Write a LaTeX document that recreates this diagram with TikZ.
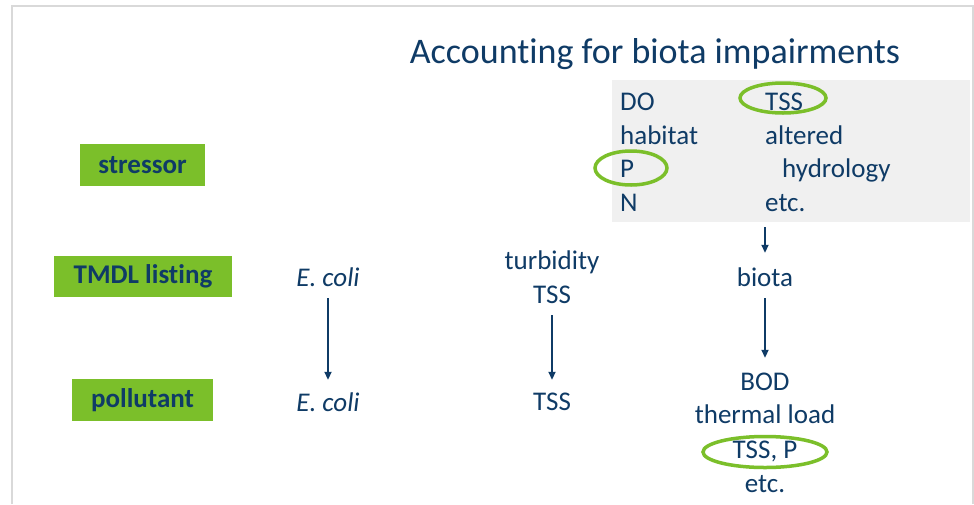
\documentclass[tikz,border=0pt]{standalone}
\usepackage{fontspec}
\setmainfont{Carlito}[RawFeature={-liga}]
\usetikzlibrary{arrows.meta}

\definecolor{navy}{HTML}{0F3B66}
\definecolor{leaf}{HTML}{7BBF2A}
\definecolor{panelgrey}{HTML}{F0F0F0}
\definecolor{framegrey}{HTML}{D9D9D9}

\tikzset{
  word/.style={text=navy, inner sep=0pt, text height=19pt, text depth=6pt, anchor=base},
  tag/.style={fill=leaf, text=navy, inner sep=0pt, font=\fontsize{27}{32}\selectfont\bfseries},
  link/.style={draw=navy, line width=1.8pt, -{Triangle[length=8pt, width=7pt]}},
  ring/.style={draw=leaf, line width=3.5pt},
}

\begin{document}
\begin{tikzpicture}[x=1pt, y=-1pt, font=\fontsize{27}{32}\selectfont]
  \useasboundingbox (0,0) rectangle (974,504);
  \fill[white] (0,0) rectangle (974,504);

  % slide frame
  \draw[framegrey, line width=2pt] (12,504) -- (12,6) -- (974,6);
  \draw[framegrey, line width=2pt] (973,6) -- (973,504);

  % title
  \node[word, text height=25pt, text depth=8pt, font=\fontsize{36}{42}\selectfont] (title) at (655,63) {Accounting for biota impairments};

  % row labels
  \node[tag, minimum width=125pt, minimum height=42pt] (stressor) at (142.5,165) {stressor};
  \node[tag, minimum width=178pt, minimum height=41pt] (listing) at (143,276.5) {TMDL listing};
  \node[tag, minimum width=141pt, minimum height=42pt] (pollutant) at (142.5,400) {pollutant};

  % stressor panel
  \node[fill=panelgrey, inner sep=0pt, minimum width=358pt, minimum height=142pt] (panel) at (791,151) {};
  \node[word, anchor=base west] (do)      at (620,110) {DO};
  \node[word, anchor=base west] (habitat) at (620,144) {habitat};
  \node[word, anchor=base west] (p)       at (620,177) {P};
  \node[word, anchor=base west] (n)       at (620,211) {N};
  \node[word, anchor=base west] (tssA)    at (765,110) {TSS};
  \node[word, anchor=base west] (altered) at (765,144) {altered};
  \node[word, anchor=base west] (hydro)   at (782,177) {hydrology};
  \node[word, anchor=base west] (etcA)    at (765,211) {etc.};

  % listing row
  \node[word] (ecoliA) at (328,286) {\itshape E. coli};
  \node[word] (turb)   at (552,269) {turbidity};
  \node[word] (tssB)   at (552,303) {TSS};
  \node[word] (biota)  at (765,286) {biota};

  % pollutant row
  \node[word] (ecoliB) at (328,411) {\itshape E. coli};
  \node[word] (tssC)   at (552,410) {TSS};
  \node[word] (bod)    at (765,390) {BOD};
  \node[word] (therm)  at (765,423) {thermal load};
  \node[word] (tssp)   at (765,458) {TSS, P};
  \node[word] (etcB)   at (765,492) {etc.};

  % connectors
  \draw[link, shorten <=6pt, shorten >=12pt] (ecoliA.south) -- (ecoliB.north);
  \draw[link, shorten <=6pt, shorten >=11pt] (tssB.south) -- (tssC.north);
  \draw[link, shorten <=5pt, shorten >=14pt] (panel.south -| biota) -- (biota.north);
  \draw[link, shorten <=6pt, shorten >=13pt] (biota.south) -- (bod.north);

  % highlight rings
  \draw[ring] (783,98) ellipse [x radius=43pt, y radius=15pt];
  \draw[ring] (631,168) ellipse [x radius=36pt, y radius=17pt];
  \draw[ring] (765,452) ellipse [x radius=62pt, y radius=15.5pt];
\end{tikzpicture}
\end{document}
